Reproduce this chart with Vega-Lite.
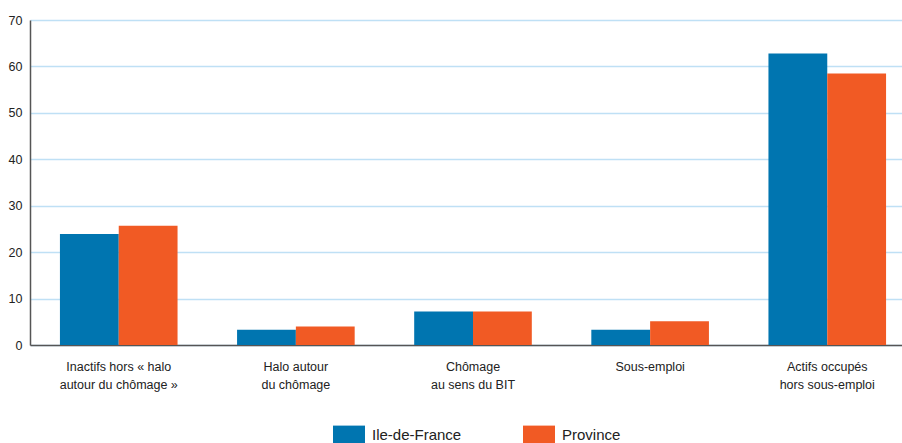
{
  "$schema": "https://vega.github.io/schema/vega-lite/v6.json",
  "autosize": "none",
  "width": 886,
  "height": 325,
  "padding": {"left": 30, "top": 20, "right": 0, "bottom": 98},
  "background": "white",
  "config": {"view": {"stroke": null}, "font": "Liberation Sans"},
  "data": {
    "values": [
      {"cat": "Inactifs hors « halo|autour du chômage »", "zone": "Ile-de-France", "v": 23.9},
      {"cat": "Inactifs hors « halo|autour du chômage »", "zone": "Province", "v": 25.7},
      {"cat": "Halo autour|du chômage", "zone": "Ile-de-France", "v": 3.3},
      {"cat": "Halo autour|du chômage", "zone": "Province", "v": 4.0},
      {"cat": "Chômage|au sens du BIT", "zone": "Ile-de-France", "v": 7.2},
      {"cat": "Chômage|au sens du BIT", "zone": "Province", "v": 7.2},
      {"cat": "Sous-emploi", "zone": "Ile-de-France", "v": 3.3},
      {"cat": "Sous-emploi", "zone": "Province", "v": 5.1},
      {"cat": "Actifs occupés|hors sous-emploi", "zone": "Ile-de-France", "v": 62.8},
      {"cat": "Actifs occupés|hors sous-emploi", "zone": "Province", "v": 58.5}
    ]
  },
  "mark": {"type": "bar"},
  "encoding": {
    "x": {
      "field": "cat", "type": "nominal", "sort": null,
      "scale": {"paddingInner": 0.336, "paddingOuter": 0.169},
      "axis": {
        "title": null, "labelAngle": 0, "labelExpr": "split(datum.label, '|')",
        "labelFontSize": 12.5, "labelLineHeight": 18, "labelColor": "#222",
        "labelPadding": 15, "ticks": false, "domainColor": "#555", "domainWidth": 1.5,
        "labelBaseline": "top"
      }
    },
    "xOffset": {"field": "zone", "type": "nominal"},
    "y": {
      "field": "v", "type": "quantitative",
      "scale": {"domain": [0, 70]},
      "axis": {
        "title": null, "values": [0, 10, 20, 30, 40, 50, 60, 70],
        "labelFontSize": 12.5, "labelColor": "#222", "ticks": false, "labelPadding": 8,
        "domainColor": "#555", "domainWidth": 1.5,
        "gridColor": "#BFE0F5", "gridWidth": 1.5
      }
    },
    "color": {
      "field": "zone", "type": "nominal",
      "scale": {"domain": ["Ile-de-France", "Province"], "range": ["#0075B0", "#F15A24"]},
      "legend": {
        "title": null, "orient": "none", "direction": "horizontal",
        "legendX": 303, "legendY": 399,
        "symbolType": "M-1,-0.6H1V0.6H-1Z", "symbolSize": 1024, "symbolStrokeWidth": 0,
        "labelFontSize": 15, "labelColor": "#222", "columnPadding": 61, "labelOffset": 7
      }
    }
  }
}
